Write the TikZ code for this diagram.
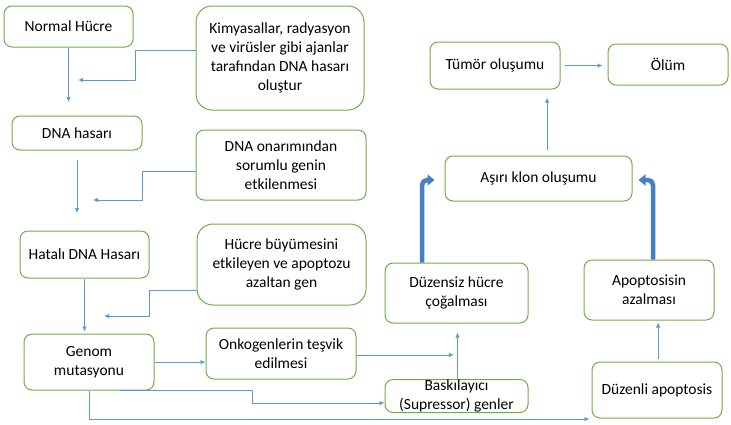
\documentclass[tikz,border=0pt]{standalone}
\usepackage{fontspec}
\setmainfont{Carlito}
\usetikzlibrary{arrows.meta}
\definecolor{boxgreen}{RGB}{112,173,71}
\definecolor{linkblue}{RGB}{91,155,213}
\definecolor{thickblue}{RGB}{68,128,196}
\begin{document}
\begin{tikzpicture}[x=1pt,y=-1pt,line join=round,
    font=\fontsize{15.5}{19}\selectfont,
    box/.style={draw=boxgreen,line width=1pt,rounded corners=8pt,
        align=center,inner sep=0pt,text=black},
    bigbox/.style={box,rounded corners=16pt},
    link/.style={draw=linkblue,line width=0.8pt,
        -{Latex[length=5pt,width=4.5pt]}},
    biglink/.style={draw=thickblue,line width=4.5pt,rounded corners=5pt,
        -{Triangle[length=7pt,width=11pt]}}]
    \useasboundingbox (0,0) rectangle (731,424);
    % left column
    \node[box,minimum width=129pt,minimum height=41pt] (normal) at (68.5,26.5) {Normal Hücre};
    \node[box,minimum width=130pt,minimum height=34pt] (dnahasar) at (77,133) {DNA hasarı};
    \node[box,minimum width=129pt,minimum height=47pt] (hatali) at (84.5,254.5) {Hatalı DNA Hasarı};
    \node[box,minimum width=130pt,minimum height=56pt] (genom) at (89,362) {Genom\\mutasyonu};
    % causes
    \node[bigbox,minimum width=168pt,minimum height=104pt] (kimya) at (280,58)
        {Kimyasallar, radyasyon\\ve virüsler gibi ajanlar\\tarafından DNA hasarı\\oluştur};
    \node[box,minimum width=170pt,minimum height=70pt] (onarim) at (281,165)
        {DNA onarımından\\sorumlu genin\\etkilenmesi};
    \node[bigbox,minimum width=169pt,minimum height=81pt] (buyume) at (281.5,264.5)
        {Hücre büyümesini\\etkileyen ve apoptozu\\azaltan gen};
    \node[box,minimum width=150pt,minimum height=51pt] (onko) at (281,353.5) {Onkogenlerin teşvik\\edilmesi};
    % right part
    \node[box,minimum width=143pt,minimum height=33pt] (baski) at (456.5,396) {Baskılayıcı\\(Supressor) genler};
    \node[box,minimum width=143pt,minimum height=60pt] (duzensiz) at (456.5,293) {Düzensiz hücre\\çoğalması};
    \node[box,minimum width=130pt,minimum height=56pt] (duzenli) at (657,390) {Düzenli apoptosis};
    \node[box,minimum width=130pt,minimum height=60pt] (apopazal) at (649,290) {Apoptosisin\\azalması};
    \node[box,minimum width=187pt,minimum height=45pt] (klon) at (538.5,178.5) {Aşırı klon oluşumu};
    \node[box,minimum width=130pt,minimum height=47pt] (tumor) at (495,65.5) {Tümör oluşumu};
    \node[box,minimum width=120pt,minimum height=41pt] (olum) at (668,64.5) {Ölüm};
    % free ends
    \coordinate (n1) at (68.5,102);
    \coordinate (k1) at (78,80);
    \coordinate (d0) at (77,160);
    \coordinate (d1) at (77,213);
    \coordinate (o1) at (93,200);
    \coordinate (b1) at (104,316);
    \coordinate (s1) at (454,355);
    % thin links
    \draw[link] (normal.south) -- (n1);
    \draw[link] ([yshift=8pt]kimya.west) -- ++(-60,0) |- (k1);
    \draw[link] (d0) -- (d1);
    \draw[link] ([yshift=-6pt]onarim.west) -- ++(-53,0) |- (o1);
    \draw[link,shorten >=2pt] (hatali.south) -- (hatali.south |- genom.north);
    \draw[link] ([yshift=-25.5pt]buyume.west) -- ++(-47,0) |- (b1);
    \draw[link] (genom.east) -- (genom.east -| onko.west);
    \draw[link] ([yshift=-1.5pt]onko.east) -- (s1);
    \draw[link,shorten >=9pt] ([xshift=1pt]baski.north) -- ([xshift=1pt]baski.north |- duzensiz.south);
    \draw[link] ([xshift=31pt]genom.south) -- ++(132,0) |- ([yshift=-7pt]baski.west);
    \draw[link] (genom.south) |- ([xshift=-2pt,yshift=-29pt]duzenli.west);
    \draw[link,shorten <=3pt,shorten >=2pt] ([xshift=1pt]duzenli.north) -- ([xshift=1pt]duzenli.north |- apopazal.south);
    \draw[link,shorten <=6pt,shorten >=8pt] ([xshift=8.5pt]klon.north) -- ([xshift=8.5pt]klon.north |- tumor.south);
    \draw[link,shorten <=4pt,shorten >=5pt] (tumor.east) -- (tumor.east -| olum.west);
    % thick links
    \draw[biglink] ([xshift=-34.5pt]duzensiz.north) |- ([xshift=-10pt,yshift=-1.5pt]klon.west);
    \draw[biglink] ([xshift=4pt]apopazal.north) |- ([xshift=6pt,yshift=-1.5pt]klon.east);
\end{tikzpicture}
\end{document}
